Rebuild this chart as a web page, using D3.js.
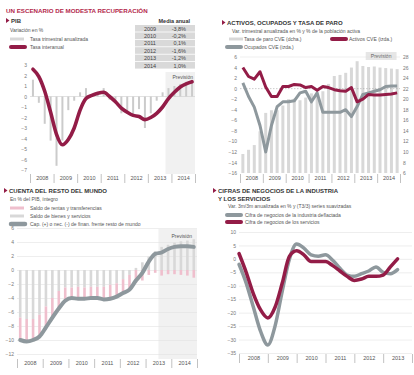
<!DOCTYPE html>
<html lang="es">
<head>
<meta charset="UTF-8">
<title>Un escenario de modesta recuperación</title>
<script src="https://d3js.org/d3.v7.min.js"></script>
<style>
    body { margin: 0; background: #fff; }
    text { font-family: "Liberation Sans", Arial, sans-serif; }
</style>
</head>
<body>
<div id="main"></div>
<script>
    // años del eje x
    const years = ["2008", "2009", "2010", "2011", "2012", "2013", "2014"]
    const yearsIndustry = ["2008", "2009", "2010", "2011", "2012", "2013"]

    // PIB: trimestres 2008T1 - 2014T4
    const pibTrimestral = [1.6, -0.6, -2.6, -4.2, -6.6, -4.2, -1.3, -0.4, 0.4, 0.8, 0.0, 0.4,
        0.8, -0.3, -0.6, -1.6, -1.6, -1.7, -1.2, -3.0, -1.6, -0.4, 0.4, 0.8, 1.0, 1.2, 1.4, 1.6]
    const pibInteranual = [2.6, 1.9, 0.5, -1.5, -3.6, -4.6, -4.1, -3.0, -1.3, -0.2, 0.1, 0.3,
        0.4, 0.0, -0.5, -1.1, -1.5, -1.8, -1.9, -2.2, -2.0, -1.6, -1.0, -0.2, 0.4, 0.9, 1.2, 1.4]
    const pibTicks = [3, 2, 1, 0, -1, -2, -3, -4, -5, -6, -7]
    const mediaYears = ["2009", "2010", "2011", "2012", "2013", "2014"]
    const mediaValues = ["-3,8%", "-0,2%", "0,1%", "-1,6%", "-1,2%", "1,0%"]

    // Activos, ocupados y tasa de paro
    const tasaParo = [9.6, 10.4, 11.3, 13.9, 17.4, 17.9, 17.9, 18.8, 20.0, 20.1, 19.8, 20.3,
        21.1, 20.9, 21.5, 22.9, 24.4, 24.6, 25.0, 26.0, 27.2, 26.3, 26.1, 26.2, 26.0, 25.9, 25.8, 25.7]
    const activos = [4.0, 2.3, 1.8, 3.2, 0.3, -1.5, -1.5, 0.4, 0.4, 0.8, 0.7, 0.2,
        0.4, -0.3, 0.4, 0.2, -0.2, -0.4, -0.5, 0.2, -2.5, -2.0, -1.1, -1.2, -1.2, -1.1, -1.0, -0.8]
    const ocupados = [1.1, -1.5, -3.5, -7.0, -12.0, -7.0, -3.4, -2.5, -2.5, -2.3, -0.8, -0.5,
        -2.5, -0.8, -4.5, -4.5, -4.5, -4.5, -4.0, -5.3, -3.4, -1.1, -0.8, -0.5, -0.2, 0.4, 0.5, 0.5]
    const empTicksLeft = [6, 4, 2, 0, -2, -4, -6, -8, -10, -12, -14, -16]
    const empTicksRight = [28, 26, 24, 22, 20, 18, 16, 14, 12, 10, 8, 6]

    // Cuenta del resto del mundo
    const saldoBienes = [-6.8, -7.0, -7.0, -6.4, -5.2, -4.0, -3.0, -2.5, -2.5, -2.4, -2.5, -2.4,
        -2.4, -2.4, -2.1, -1.9, -1.3, -0.7, 0.3, 1.1, 1.9, 2.7, 3.3, 3.6, 3.9, 4.1, 4.2, 4.4]
    const saldoRentas = [-3.2, -3.2, -3.0, -3.1, -3.0, -2.8, -2.5, -1.9, -1.5, -1.7, -1.6, -1.6,
        -1.6, -1.8, -2.0, -1.9, -2.0, -2.1, -1.8, -1.5, -0.7, -0.4, -0.8, -0.6, -0.6, -0.7, -0.8, -1.1]
    const capNecFinan = [-10.0, -10.2, -10.0, -9.5, -8.2, -6.8, -5.5, -4.4, -4.0, -4.1, -4.1, -4.0,
        -4.0, -4.2, -4.1, -3.8, -3.3, -2.8, -1.5, -0.4, 1.2, 2.3, 2.5, 3.0, 3.3, 3.4, 3.4, 3.3]
    const extTicks = [6, 4, 2, 0, -2, -4, -6, -8, -10, -12]

    // Cifra de negocios (trimestres desde 2008T1)
    const negIndustria = [-2, -9, -18, -27, -32, -25, -12, 0, 5.5, 4, 1.5, 1,
        1.5, -0.5, -3.5, -6, -6.5, -5.5, -4.5, -3, -5, -5.5, -4]
    const negServicios = [2, -5, -13, -19, -22, -18, -9, 1, 3, 1.5, -1, -1,
        -1, -2.5, -4.5, -6.5, -8, -7.5, -6.5, -6.5, -6, -3, 0]
    const negTicks = [10, 5, 0, -5, -10, -15, -20, -25, -30, -35]

    const red = "#931c47", grayLine = "#8e989d", barGray = "#d8d8d8", pink = "#efbfcd"
    const labelColor = "#777", textColor = "#555"

    let svg = d3.select("#main").append("svg")
        .attr("width", 414)
        .attr("height", 375)

    // ejes de años con separadores
    function yearAxis(x, yTop, yrs) {
        let g = svg.append("g").attr("transform", `translate(0, ${yTop})`)
        g.call(d3.axisBottom(x).tickValues(d3.range(yrs.length + 1).map(i => i * 4)).tickSize(9).tickFormat(""))
        g.select(".domain").remove()
        g.selectAll("line").attr("stroke", "#999").attr("stroke-width", 0.6)
        let l = svg.append("g").attr("transform", `translate(0, ${yTop})`)
        l.call(d3.axisBottom(x).tickValues(yrs.map((d, i) => i * 4 + 2)).tickSize(0).tickPadding(2)
            .tickFormat((d, i) => yrs[i]))
        l.select(".domain").remove()
        l.selectAll("text").attr("font-size", 5.5).attr("fill", textColor).attr("font-family", "Liberation Sans, Arial")
    }

    function yAxis(y, ticks, x0, x1, grid, side) {
        let g = svg.append("g").attr("transform", `translate(${side === "right" ? x1 : x0}, 0)`)
        let ax = side === "right" ? d3.axisRight(y) : d3.axisLeft(y)
        g.call(ax.tickValues(ticks).tickSize(grid ? -(x1 - x0) : 0).tickPadding(3))
        g.select(".domain").remove()
        g.selectAll("line").attr("stroke", "#e2e2e2").attr("stroke-width", 0.6)
        g.selectAll("text").attr("font-size", 5).attr("fill", labelColor).attr("font-family", "Liberation Sans, Arial")
    }

    function sectionTitle(x, y, lines) {
        svg.append("path").attr("d", `M ${x},${y - 5} L ${x + 3.5},${y - 2.5} L ${x},${y} Z`).attr("fill", red)
        lines.forEach((t, i) => {
            svg.append("text").attr("x", x + 5).attr("y", y + i * 8).text(t)
                .attr("font-size", 6).attr("font-weight", "bold").attr("fill", "#333")
        })
    }

    function smallText(x, y, t) {
        svg.append("text").attr("x", x).attr("y", y).text(t).attr("font-size", 5).attr("fill", textColor)
    }

    function legendSwatch(x, y, color, thick) {
        svg.append("line").attr("x1", x).attr("x2", x + 14).attr("y1", y).attr("y2", y)
            .attr("stroke", color).attr("stroke-width", thick).attr("stroke-linecap", thick > 3 ? "round" : "butt")
    }

    // ---------- titular ----------
    svg.append("text").attr("x", 6).attr("y", 13).text("UN ESCENARIO DE MODESTA RECUPERACIÓN")
        .attr("font-size", 6.2).attr("font-weight", "bold").attr("fill", "#b3284b")

    // ---------- PIB ----------
    sectionTitle(6, 23, ["PIB"])
    smallText(10, 32, "Variación en %")
    legendSwatch(10, 39, barGray, 3)
    smallText(30, 41, "Tasa trimestral anualizada")
    legendSwatch(11, 47, red, 4)
    smallText(30, 49, "Tasa interanual")

    // tabla media anual
    svg.append("text").attr("x", 190).attr("y", 23).text("Media anual").attr("text-anchor", "end")
        .attr("font-size", 5.5).attr("font-weight", "bold").attr("fill", "#333")
    let table = svg.append("g")
    table.selectAll("rect").data(mediaYears).enter().append("rect")
        .attr("x", 135).attr("y", (d, i) => 25 + i * 7.4).attr("width", 60).attr("height", 6.6)
        .attr("fill", "#d9d9d9")
    table.selectAll("text.yr").data(mediaYears).enter().append("text").attr("class", "yr")
        .attr("x", 150).attr("y", (d, i) => 30.5 + i * 7.4).text(d => d).attr("text-anchor", "middle")
        .attr("font-size", 5.5).attr("fill", "#444")
    table.selectAll("text.val").data(mediaValues).enter().append("text").attr("class", "val")
        .attr("x", 186).attr("y", (d, i) => 30.5 + i * 7.4).text(d => d).attr("text-anchor", "end")
        .attr("font-size", 5.5).attr("fill", "#444")

    let xA = d3.scaleLinear().domain([0, 28]).range([30, 195])
    let yA = d3.scaleLinear().domain([-7, 3]).range([170, 65])

    svg.append("rect").attr("x", xA(23)).attr("y", 72).attr("width", xA(28) - xA(23)).attr("height", 102)
        .attr("fill", "#f1f1f1")
    svg.append("text").attr("x", 193).attr("y", 79).text("Previsión").attr("text-anchor", "end")
        .attr("font-size", 5).attr("fill", textColor)

    yAxis(yA, pibTicks, 30, 195, false, "left")
    svg.append("line").attr("x1", 30).attr("x2", 195).attr("y1", yA(0)).attr("y2", yA(0))
        .attr("stroke", "#cfcfcf").attr("stroke-width", 0.6)

    svg.append("g").selectAll("rect").data(pibTrimestral).enter().append("rect")
        .attr("x", (d, i) => xA(i + 0.5) - 1)
        .attr("y", d => yA(Math.max(0, d)))
        .attr("width", 2)
        .attr("height", d => Math.abs(yA(d) - yA(0)))
        .attr("fill", "#cbcbcb")

    svg.append("path").datum(pibInteranual)
        .attr("d", d3.line().x((d, i) => xA(i + 0.5)).y(d => yA(d)).curve(d3.curveMonotoneX))
        .attr("fill", "none").attr("stroke", red).attr("stroke-width", 3.6).attr("stroke-linecap", "round")

    yearAxis(xA, 174, years)

    // ---------- Activos, ocupados y tasa de paro ----------
    sectionTitle(222, 25, ["ACTIVOS, OCUPADOS Y TASA DE PARO"])
    smallText(232, 33, "Var. trimestral anualizada en % y % de la población activa")
    legendSwatch(229, 39, barGray, 3)
    smallText(244, 41, "Tasa de paro CVE (dcha.)")
    legendSwatch(332, 39, red, 4)
    smallText(349, 41, "Activos CVE (izda.)")
    legendSwatch(227, 47, grayLine, 4)
    smallText(244, 49, "Ocupados CVE (izda.)")

    let xB = d3.scaleLinear().domain([0, 28]).range([240, 400])
    let yBL = d3.scaleLinear().domain([-16, 6]).range([173, 57])
    let yBR = d3.scaleLinear().domain([6, 28]).range([173, 57])

    svg.append("rect").attr("x", xB(22)).attr("y", 52).attr("width", xB(27.4) - xB(22)).attr("height", 8)
        .attr("fill", "#e6e6e6")
    svg.append("text").attr("x", xB(24.7)).attr("y", 58).text("Previsión").attr("text-anchor", "middle")
        .attr("font-size", 5).attr("fill", textColor)

    yAxis(yBL, empTicksLeft, 240, 400, false, "left")
    yAxis(yBR, empTicksRight, 240, 400, false, "right")

    svg.append("g").selectAll("rect").data(tasaParo).enter().append("rect")
        .attr("x", (d, i) => xB(i + 0.5) - 1.5)
        .attr("y", d => yBR(d))
        .attr("width", 3)
        .attr("height", d => yBR(6) - yBR(d))
        .attr("fill", barGray)

    svg.append("line").attr("x1", 240).attr("x2", 400).attr("y1", yBL(0)).attr("y2", yBL(0))
        .attr("stroke", "#999").attr("stroke-width", 0.5).attr("stroke-dasharray", "1.5,1.5")
    svg.append("line").attr("x1", 240).attr("x2", 400).attr("y1", yBL(6)).attr("y2", yBL(6))
        .attr("stroke", "#ddd").attr("stroke-width", 0.5)

    let lineB = d3.line().x((d, i) => xB(i + 0.5)).y(d => yBL(d))
    svg.append("path").datum(ocupados).attr("d", lineB)
        .attr("fill", "none").attr("stroke", grayLine).attr("stroke-width", 3).attr("stroke-linejoin", "round")
    svg.append("path").datum(activos).attr("d", lineB)
        .attr("fill", "none").attr("stroke", red).attr("stroke-width", 3).attr("stroke-linejoin", "round")

    yearAxis(xB, 174, years)

    // ---------- Cuenta del resto del mundo ----------
    sectionTitle(4, 193, ["CUENTA DEL RESTO DEL MUNDO"])
    smallText(10, 201, "En % del PIB, íntegro")
    legendSwatch(10, 208, pink, 3)
    smallText(30, 210, "Saldo de rentas y transferencias")
    legendSwatch(10, 216, barGray, 3)
    smallText(30, 218, "Saldo de bienes y servicios")
    legendSwatch(11, 224, grayLine, 4.5)
    smallText(30, 226, "Cap. (+) o nec. (-) de finan. frente resto de mundo")

    let xC = d3.scaleLinear().domain([0, 28]).range([17, 197])
    let yC = d3.scaleLinear().domain([-12, 6]).range([354, 228])

    svg.append("rect").attr("x", xC(22)).attr("y", 229).attr("width", xC(28) - xC(22)).attr("height", 130)
        .attr("fill", "#f1f1f1")
    yAxis(yC, extTicks, 17, 197, true, "left")
    svg.append("text").attr("x", 192).attr("y", 238).text("Previsión").attr("text-anchor", "end")
        .attr("font-size", 5).attr("fill", textColor)

    svg.append("g").selectAll("rect").data(saldoBienes).enter().append("rect")
        .attr("x", (d, i) => xC(i + 0.5) - 1.3)
        .attr("y", d => yC(Math.max(0, d)))
        .attr("width", 2.6)
        .attr("height", d => Math.abs(yC(d) - yC(0)))
        .attr("fill", barGray)
    svg.append("g").selectAll("rect").data(saldoRentas).enter().append("rect")
        .attr("x", (d, i) => xC(i + 0.5) - 1.3)
        .attr("y", (d, i) => yC(Math.min(0, saldoBienes[i])))
        .attr("width", 2.6)
        .attr("height", d => yC(0) - yC(-d))
        .attr("fill", pink)

    svg.append("path").datum(capNecFinan)
        .attr("d", d3.line().x((d, i) => xC(i + 0.5)).y(d => yC(d)).curve(d3.curveMonotoneX))
        .attr("fill", "none").attr("stroke", grayLine).attr("stroke-width", 4).attr("stroke-linecap", "round")

    yearAxis(xC, 359, years)

    // ---------- Cifras de negocios ----------
    sectionTitle(213, 193, ["CIFRAS DE NEGOCIOS DE LA INDUSTRIA", "Y LOS SERVICIOS"])
    smallText(228, 208, "Var. 3m/3m anualizada en % y (T3/3) series suavizadas")
    legendSwatch(227, 215, grayLine, 4)
    smallText(245, 217, "Cifra de negocios de la industria deflactada")
    legendSwatch(227, 222, red, 4)
    smallText(245, 224, "Cifra de negocios de los servicios")

    let xD = d3.scaleLinear().domain([0, 24]).range([239, 412])
    let yD = d3.scaleLinear().domain([-35, 10]).range([353, 232])

    yAxis(yD, negTicks, 239, 412, true, "left")

    let lineD = d3.line().x((d, i) => xD(i)).y(d => yD(d)).curve(d3.curveMonotoneX)
    svg.append("path").datum(negIndustria).attr("d", lineD)
        .attr("fill", "none").attr("stroke", grayLine).attr("stroke-width", 3.5).attr("stroke-linecap", "round")
    svg.append("path").datum(negServicios).attr("d", lineD)
        .attr("fill", "none").attr("stroke", red).attr("stroke-width", 3.5).attr("stroke-linecap", "round")

    yearAxis(xD, 354, yearsIndustry)
</script>
</body>
</html>
